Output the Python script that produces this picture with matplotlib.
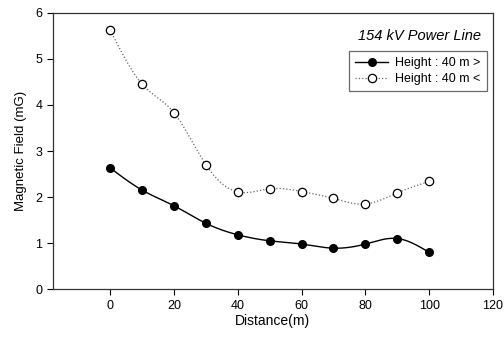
import numpy as np
import matplotlib
matplotlib.use("Agg")
import matplotlib.pyplot as plt

distance = [0, 10, 20, 30, 40, 50, 60, 70, 80, 90, 100]
field_above = [2.63, 2.15, 1.81, 1.43, 1.18, 1.05, 0.98, 0.89, 0.98, 1.10, 0.80]
field_below = [5.62, 4.45, 3.83, 2.70, 2.11, 2.18, 2.12, 1.97, 1.85, 2.09, 2.34]


def smooth(x, y, n=20):
    # natural cubic spline, only for drawing the connecting curve
    x = np.asarray(x, float)
    y = np.asarray(y, float)
    k = len(x)
    h = np.diff(x)
    A = np.zeros((k, k))
    b = np.zeros(k)
    A[0, 0] = A[-1, -1] = 1
    for i in range(1, k - 1):
        A[i, i - 1] = h[i - 1]
        A[i, i] = 2 * (h[i - 1] + h[i])
        A[i, i + 1] = h[i]
        b[i] = 6 * ((y[i + 1] - y[i]) / h[i] - (y[i] - y[i - 1]) / h[i - 1])
    m = np.linalg.solve(A, b)
    xs, ys = [], []
    for i in range(k - 1):
        t = np.linspace(x[i], x[i + 1], n, endpoint=False)
        a = x[i + 1] - t
        c = t - x[i]
        s = (m[i] * a ** 3 + m[i + 1] * c ** 3) / (6 * h[i]) \
            + (y[i] / h[i] - m[i] * h[i] / 6) * a \
            + (y[i + 1] / h[i] - m[i + 1] * h[i] / 6) * c
        xs.extend(t)
        ys.extend(s)
    xs.append(x[-1])
    ys.append(y[-1])
    return xs, ys


plt.rcParams['font.family'] = ['Liberation Sans', 'DejaVu Sans']

fig = plt.figure(figsize=(5.04, 3.39), dpi=100)
ax = fig.add_axes([0.105, 0.147, 0.873, 0.815])

sx, sy = smooth(distance, field_above)
ax.plot(sx, sy, color='black', lw=1.0, zorder=2)
ax.plot(distance, field_above, 'o', color='black', ms=5.5, zorder=3)

sx, sy = smooth(distance, field_below)
ax.plot(sx, sy, color='#666666', lw=0.9, ls=':', zorder=2)
ax.plot(distance, field_below, 'o', mfc='white', mec='black', mew=0.9, ms=6, zorder=3)

# legend entries
ax.plot([], [], '-o', color='black', lw=1.0, ms=5.5, label='Height : 40 m >')
ax.plot([], [], ':o', color='#666666', mfc='white', mec='black', mew=0.9, lw=0.9, ms=6,
        label='Height : 40 m <')
handles, labels = ax.get_legend_handles_labels()
leg = ax.legend(handles[-2:], labels[-2:], loc='upper right', bbox_to_anchor=(0.986, 0.862),
                borderaxespad=0, fontsize=9, frameon=True, fancybox=False, edgecolor='#444444',
                handlelength=2.6, borderpad=0.5, labelspacing=0.3, handletextpad=0.6)
leg.get_frame().set_linewidth(0.9)

ax.text(0.973, 0.915, '154 kV Power Line', transform=ax.transAxes, ha='right', va='center',
        fontsize=10.5, style='italic')

ax.set_xlim(-18, 120)
ax.set_ylim(0, 6)
ax.set_xticks([0, 20, 40, 60, 80, 100, 120])
ax.set_yticks([0, 1, 2, 3, 4, 5, 6])
ax.tick_params(axis='both', labelsize=9, direction='out', length=4, width=0.8)
ax.tick_params(top=False, right=False)
for sp in ax.spines.values():
    sp.set_linewidth(0.9)
    sp.set_color('#333333')

ax.set_xlabel('Distance(m)', fontsize=10, labelpad=2)
ax.set_ylabel('Magnetic Field (mG)', fontsize=9.5, labelpad=6)

fig.savefig('out.png', dpi=100)
